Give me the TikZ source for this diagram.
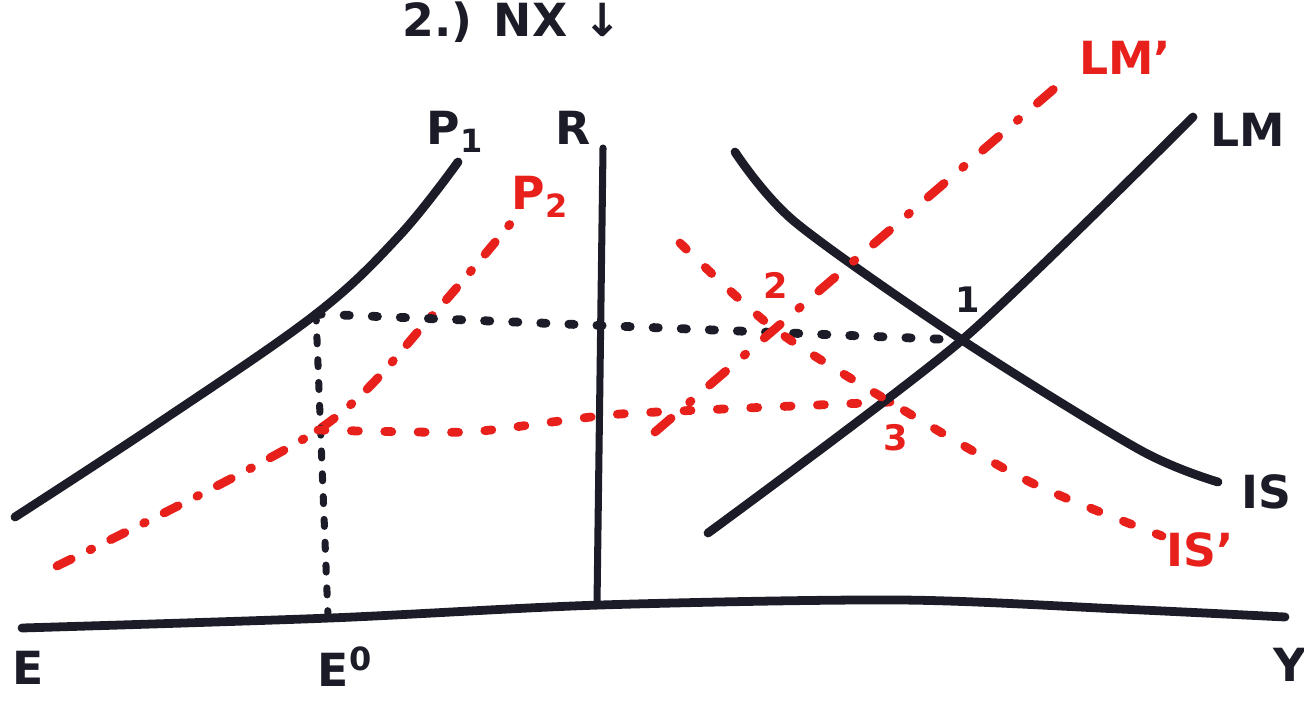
\documentclass[tikz,border=0pt]{standalone}
\usepackage{fontspec}
\setmainfont{DejaVu Sans}
\usepackage{tikz}
\usetikzlibrary{positioning, calc}

\definecolor{marker}{RGB}{28,28,40}
\definecolor{redmarker}{RGB}{232,32,28}

\begin{document}
\begin{tikzpicture}[
      x=0.02cm, y=-0.02cm,
      curve/.style={draw=marker, line width=5pt, line cap=round, line join=round},
      redcurve/.style={draw=redmarker, line width=5pt, line cap=round, line join=round},
      dashdot/.style={dash pattern=on 9pt off 12pt on 1pt off 12pt},
      guide/.style={draw=marker, line width=5pt, line cap=round, dash pattern=on 3pt off 13pt},
      lbl/.style={font=\bfseries\fontsize{26}{26}\selectfont, text=marker, inner sep=0pt},
      redlbl/.style={lbl, text=redmarker},
      numlbl/.style={font=\bfseries\fontsize{20}{20}\selectfont, inner sep=0pt}
  ]
      \useasboundingbox (0,0) rectangle (1304,700);

      % Key points
      \coordinate (A) at (316,314);
      \coordinate (B) at (318,430);
      \coordinate (E0) at (328,617);
      \coordinate (X1) at (962,340);
      \coordinate (X2) at (772,327);
      \coordinate (X3) at (890,402);

      % Axes
      \coordinate (Eend) at (22,628);
      \coordinate (Yend) at (1285,617);
      \coordinate (Rtop) at (603,148);
      \coordinate (Rbot) at (597,604);
      \draw[curve] plot[smooth, tension=0.5] coordinates {(Eend) (330,618) (600,605) (900,600) (1120,609) (Yend)};
      \draw[curve, line width=4pt] (Rtop) -- (Rbot);

      % Left panel curves
      \coordinate (P1bot) at (15,517);
      \coordinate (P1top) at (458,162);
      \coordinate (P2bot) at (57,566);
      \coordinate (P2top) at (520,212);
      \draw[curve] plot[smooth, tension=0.6] coordinates {(P1bot) (160,422) (A) (400,235) (P1top)};
      \draw[redcurve, dashdot] plot[smooth, tension=0.5] coordinates {(P2bot) (B) (430,318) (P2top)};

      % Guide lines
      \draw[guide] (A) -- (X1);
      \draw[guide, line width=4pt, dash pattern=on 4pt off 9pt] (A) -- (E0);
      \draw[redcurve, dash pattern=on 4pt off 15pt] plot[smooth, tension=0.3] coordinates {(B) (470,432) (620,414) (X3)};

      % IS-LM curves
      \coordinate (IStop) at (735,152);
      \coordinate (ISbot) at (1218,482);
      \coordinate (LMbot) at (708,533);
      \coordinate (LMtop) at (1193,117);
      \draw[curve] plot[smooth, tension=0.5] coordinates {(IStop) (795,222) (X1) (1140,450) (ISbot)};
      \draw[curve] plot[smooth, tension=0.4] coordinates {(LMbot) (X1) (LMtop)};

      % Shifted curves
      \coordinate (LMpbot) at (655,432);
      \coordinate (LMptop) at (1062,82);
      \coordinate (ISptop) at (680,243);
      \coordinate (ISpbot) at (1162,536);
      \draw[redcurve, dash pattern=on 12pt off 14pt on 1pt off 14pt] (LMpbot) -- (LMptop);
      \draw[redcurve, dash pattern=on 5pt off 15pt] plot[smooth, tension=0.5] coordinates {(ISptop) (X2) (X3) (1030,482) (ISpbot)};

      % Labels
      \node[lbl] (title) at (512,22) {2.) NX ↓};
      \node[lbl] (p1lbl) at (455,132) {P\textsubscript{1}};
      \node[lbl] (rlbl) at (573,128) {R};
      \node[redlbl] (p2lbl) at (540,197) {P\textsubscript{2}};
      \node[lbl] (lmlbl) at (1248,130) {LM};
      \node[redlbl] (lmplbl) at (1125,58) {LM'};
      \node[lbl] (islbl) at (1266,492) {IS};
      \node[redlbl] (isplbl) at (1200,550) {IS'};
      \node[numlbl, text=marker] (one) at (968,300) {1};
      \node[numlbl, text=redmarker] (two) at (776,285) {2};
      \node[numlbl, text=redmarker] (three) at (896,438) {3};
      \node[lbl] (elbl) at (28,668) {E};
      \node[lbl] (e0lbl) at (345,667) {E\textsuperscript{0}};
      \node[lbl] (ylbl) at (1290,665) {Y};
  \end{tikzpicture}
\end{document}
